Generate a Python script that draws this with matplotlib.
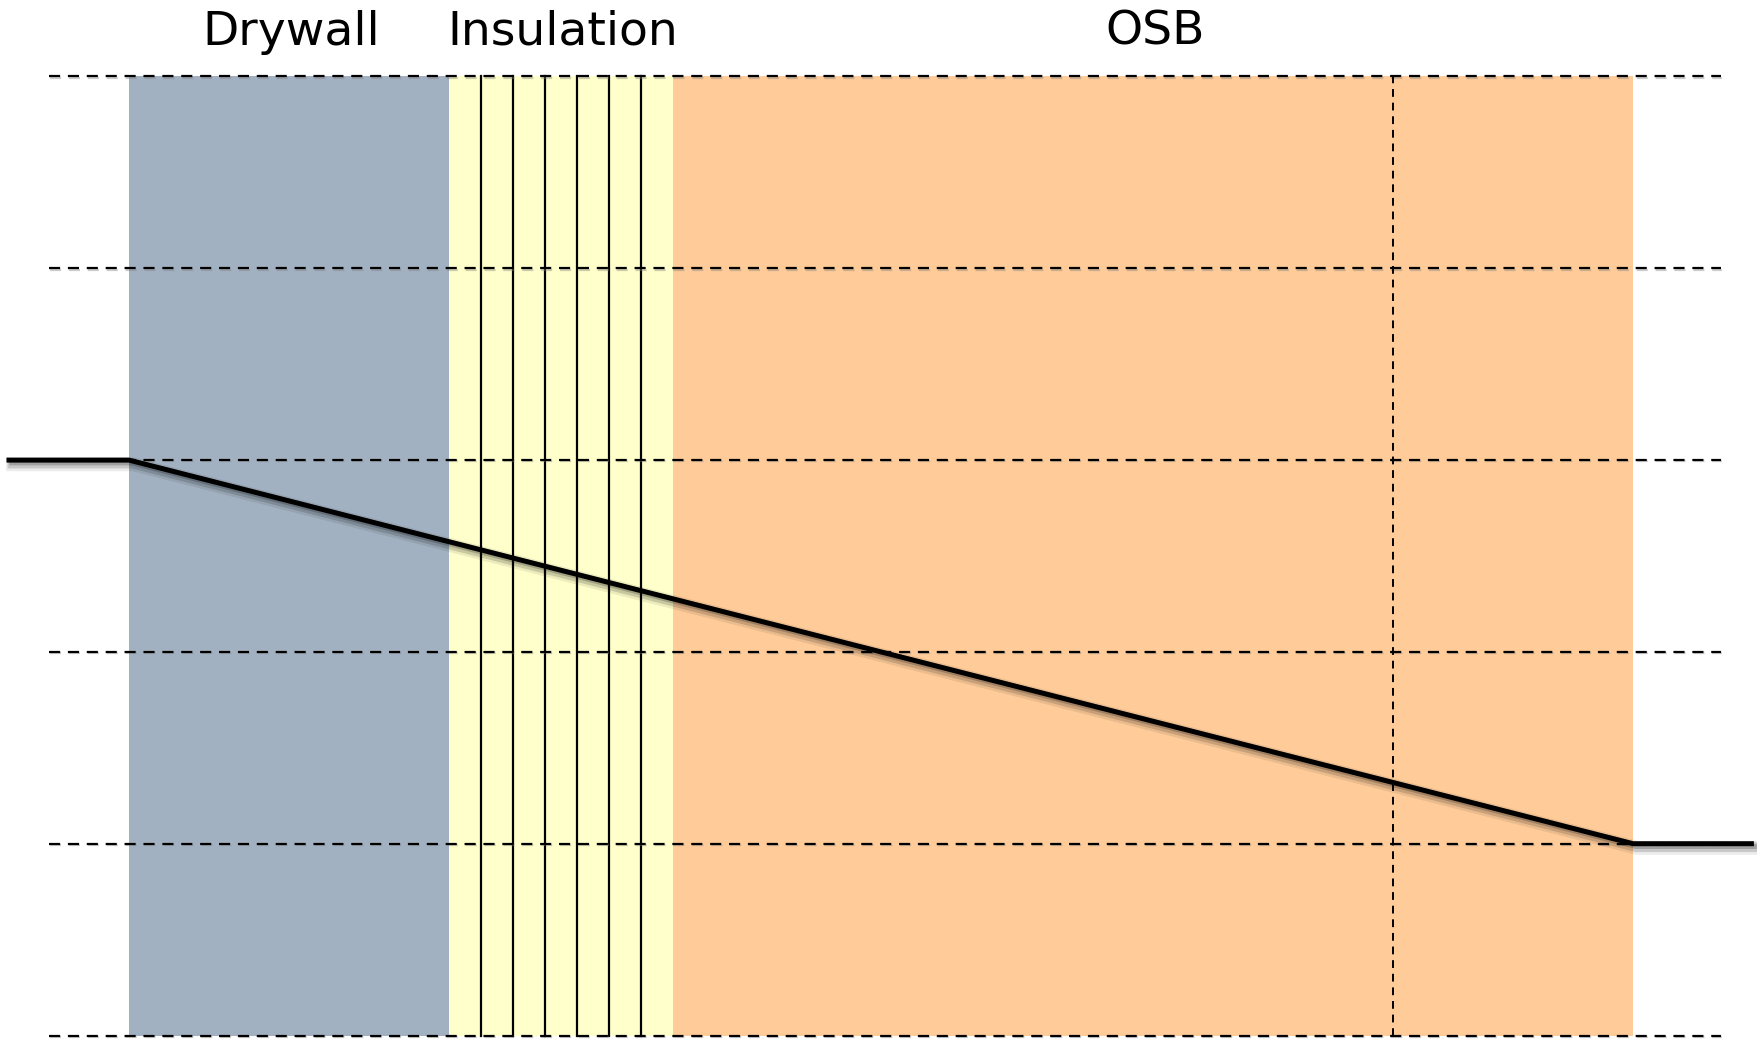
import matplotlib.pyplot as plt
from matplotlib.patches import Rectangle
import matplotlib.patheffects as pe

# layers (thickness in arbitrary units)
layer_names = ["Drywall", "Insulation", "OSB"]
layer_thickness = [10, 7, 30]
layer_colors = ["#a2b1c1", "#ffffcc", "#fecb99"]
insulation_sublayers = 7

# temperature profile through the wall
profile_x = [-3.75, 0, 47, 50.7]
profile_t = [3, 3, 1, 1]

grid_levels = [0, 1, 2, 3, 4, 5]
marker_x = 39.5   # dashed marker inside the OSB


fig = plt.figure(figsize=(17.58, 10.44), dpi=100)
ax = fig.add_axes([0, 0, 1, 1])
ax.set_xlim(-129 / 32, (1758 - 129) / 32)
ax.set_ylim(-(1044 - 1035.5) / 191.8, 1035.5 / 191.8)
ax.axis("off")

top = grid_levels[-1]
left = 0
for name, th, col in zip(layer_names, layer_thickness, layer_colors):
    ax.add_patch(Rectangle((left, 0), th, top, facecolor=col, edgecolor="none", zorder=1))
    ax.text(left + th / 2 + 0.06, (1035.5 - 45) / 191.8, name, ha="center", va="baseline",
            fontsize=34, family="DejaVu Sans")
    left += th

# insulation sub-layers
ins_start = layer_thickness[0]
step = layer_thickness[1] / insulation_sublayers
for i in range(1, insulation_sublayers):
    ax.plot([ins_start + i * step] * 2, [0, top], color="black", lw=1.6, zorder=3)

shadow = [pe.SimpleLineShadow(offset=(1, -1), shadow_color="gray", alpha=0.4), pe.Normal()]

for lvl in grid_levels:
    ax.plot([-2.5, 49.75], [lvl, lvl], color="black", lw=1.6, dashes=(5.0, 3.5),
            zorder=4, path_effects=shadow)

ax.plot([marker_x, marker_x], [0, top], color="black", lw=1.4, dashes=(4.0, 3.0), zorder=4)

line_shadow = [
    pe.SimpleLineShadow(offset=(3, -3), shadow_color="black", alpha=0.08, linewidth=10),
    pe.SimpleLineShadow(offset=(2.5, -2.5), shadow_color="black", alpha=0.15, linewidth=7),
    pe.SimpleLineShadow(offset=(2, -2), shadow_color="black", alpha=0.2),
    pe.Normal(),
]
ax.plot(profile_x, profile_t, color="black", lw=3.6, zorder=5,
        solid_joinstyle="miter", path_effects=line_shadow)

fig.savefig("out.png", dpi=100)
